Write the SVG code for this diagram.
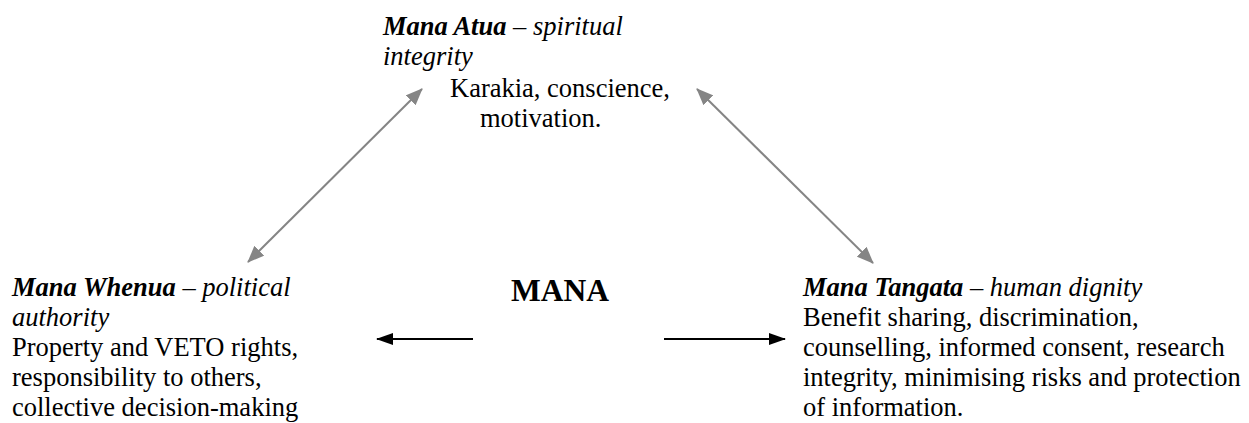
<svg xmlns="http://www.w3.org/2000/svg" width="1249" height="423" viewBox="0 0 1249 423">
  <style>
    text { font-family: "Liberation Serif", "Times New Roman", serif; font-size: 26.5px; fill: #000; }
    .bi { font-weight: bold; font-style: italic; }
    .it { font-style: italic; }
    .title { font-weight: bold; font-size: 31.5px; }
    .link { stroke: #858585; stroke-width: 2; fill: none; }
    .flow { stroke: #000; stroke-width: 2.2; fill: none; }
  </style>
  <defs>
    <marker id="headGrey" markerUnits="userSpaceOnUse" markerWidth="17" markerHeight="14" refX="16" refY="7" orient="auto-start-reverse">
      <path d="M0,0 L17,7 L0,14 z" fill="#858585"/>
    </marker>
    <marker id="headBlack" markerUnits="userSpaceOnUse" markerWidth="17" markerHeight="12" refX="16" refY="6" orient="auto">
      <path d="M0,0 L17,6 L0,12 z" fill="#000"/>
    </marker>
  </defs>

  <!-- connectors -->
  <g id="connectors">
    <line class="link" x1="248" y1="262" x2="422" y2="89" marker-start="url(#headGrey)" marker-end="url(#headGrey)"/>
    <line class="link" x1="697" y1="89" x2="873" y2="263" marker-start="url(#headGrey)" marker-end="url(#headGrey)"/>
    <line class="flow" x1="473" y1="339" x2="377" y2="339" marker-end="url(#headBlack)"/>
    <line class="flow" x1="664" y1="339" x2="785" y2="339" marker-end="url(#headBlack)"/>
  </g>

  <!-- centre -->
  <g id="mana">
    <text class="title" x="560" y="301" text-anchor="middle">MANA</text>
  </g>

  <!-- top: spiritual -->
  <g id="mana-atua">
    <text x="383" y="35"><tspan class="bi">Mana Atua</tspan> – <tspan class="it">spiritual</tspan></text>
    <text class="it" x="383" y="65">integrity</text>
    <text x="450" y="97">Karakia, conscience,</text>
    <text x="480" y="127">motivation.</text>
  </g>

  <!-- left: political -->
  <g id="mana-whenua">
    <text x="12" y="296"><tspan class="bi">Mana Whenua</tspan> – <tspan class="it">political</tspan></text>
    <text class="it" x="12" y="326">authority</text>
    <text x="12" y="356">Property and VETO rights,</text>
    <text x="12" y="386">responsibility to others,</text>
    <text x="12" y="416">collective decision-making</text>
  </g>

  <!-- right: human dignity -->
  <g id="mana-tangata">
    <text x="803" y="296"><tspan class="bi">Mana Tangata</tspan> – <tspan class="it">human dignity</tspan></text>
    <text x="803" y="326">Benefit sharing, discrimination,</text>
    <text x="803" y="356">counselling, informed consent, research</text>
    <text x="803" y="386">integrity, minimising risks and protection</text>
    <text x="803" y="416">of information.</text>
  </g>
</svg>
